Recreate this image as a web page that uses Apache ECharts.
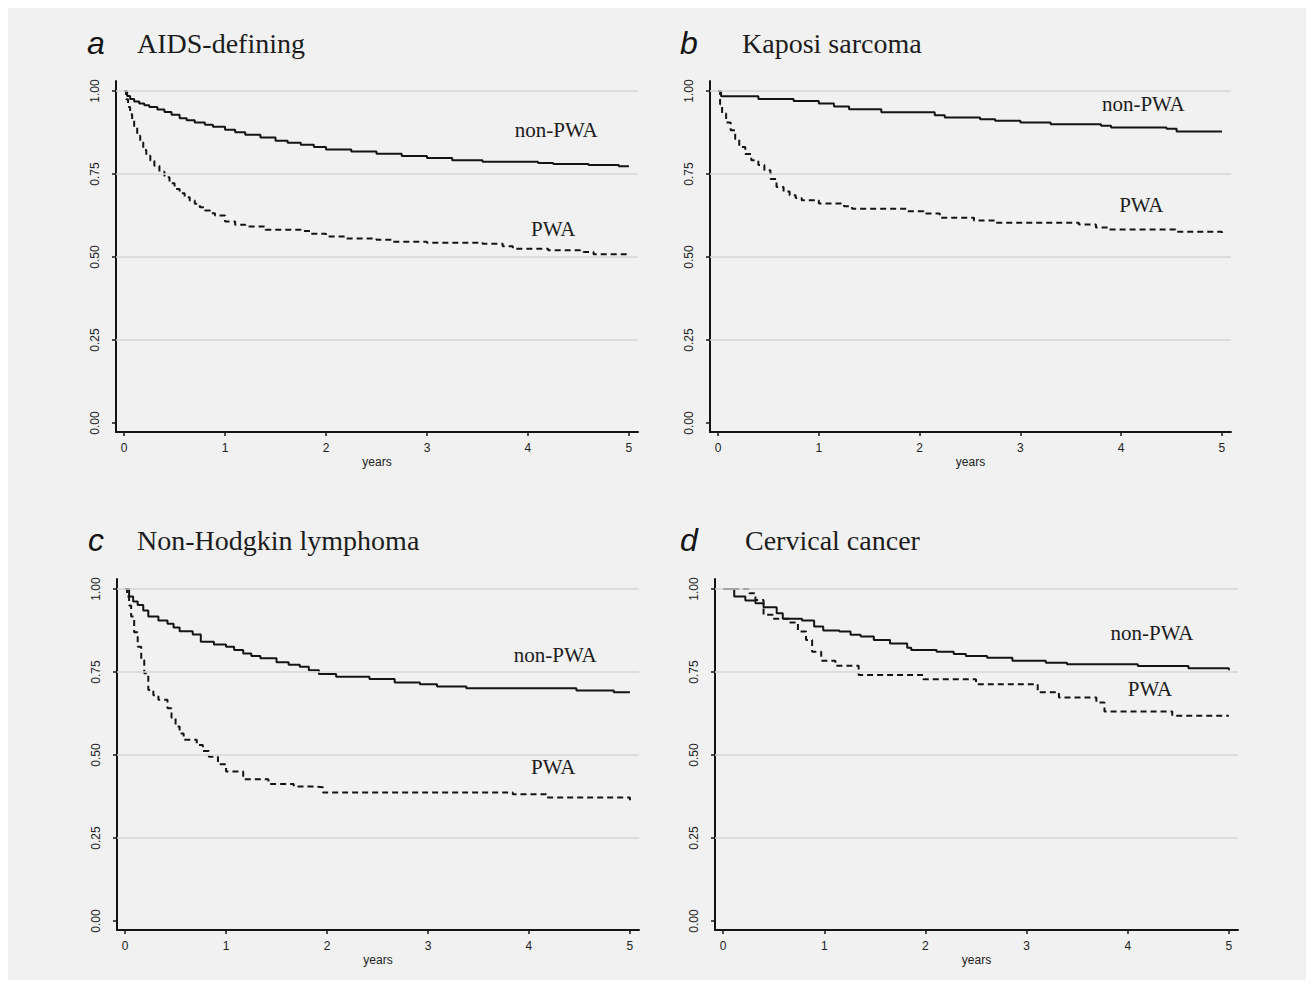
<!DOCTYPE html>
<html>
<head>
<meta charset="utf-8">
<script src="https://cdn.jsdelivr.net/npm/echarts@6/dist/echarts.min.js"></script>
<style>
  html, body { margin: 0; padding: 0; background: #ffffff; }
  #main { position: absolute; left: 8px; top: 8px; width: 1298px; height: 972px; background: #f1f1f1; }
</style>
</head>
<body>
<div id="main"></div>
<script>
// tick values
const years = [0, 1, 2, 3, 4, 5]
const survTicks = [0, 0.25, 0.5, 0.75, 1]

// panel text
const panelLetters = ['a', 'b', 'c', 'd']
const panelTitles = ['AIDS-defining', 'Kaposi sarcoma', 'Non-Hodgkin lymphoma', 'Cervical cancer']
const groupNames = ['non-PWA', 'PWA']

// survival curves, [years, proportion]
const aidsNonPwa = [[0, 1], [0.03, 0.985], [0.06, 0.976], [0.1, 0.968], [0.15, 0.962], [0.2, 0.957], [0.25, 0.952], [0.33, 0.944], [0.4, 0.937], [0.47, 0.928], [0.55, 0.918], [0.62, 0.912], [0.7, 0.905], [0.8, 0.898], [0.88, 0.892], [1.0, 0.883], [1.1, 0.876], [1.2, 0.868], [1.35, 0.86], [1.5, 0.85], [1.62, 0.844], [1.75, 0.838], [1.88, 0.831], [2.0, 0.824], [2.25, 0.818], [2.5, 0.811], [2.75, 0.804], [3.0, 0.798], [3.25, 0.791], [3.55, 0.787], [4.1, 0.783], [4.25, 0.78], [4.6, 0.777], [4.9, 0.773], [5.0, 0.771]]
const aidsPwa = [[0, 1], [0.02, 0.975], [0.04, 0.952], [0.06, 0.93], [0.08, 0.91], [0.1, 0.89], [0.13, 0.865], [0.16, 0.845], [0.19, 0.822], [0.22, 0.805], [0.26, 0.79], [0.3, 0.775], [0.35, 0.757], [0.4, 0.74], [0.45, 0.722], [0.5, 0.705], [0.55, 0.692], [0.6, 0.68], [0.65, 0.67], [0.7, 0.66], [0.75, 0.65], [0.8, 0.64], [0.85, 0.632], [0.9, 0.625], [1.0, 0.607], [1.1, 0.597], [1.2, 0.592], [1.4, 0.582], [1.75, 0.578], [1.85, 0.57], [2.0, 0.562], [2.2, 0.556], [2.5, 0.552], [2.65, 0.546], [3.0, 0.543], [3.55, 0.54], [3.75, 0.532], [3.85, 0.525], [4.2, 0.52], [4.55, 0.515], [4.65, 0.508], [5.0, 0.503]]

const kaposiNonPwa = [[0, 1], [0.03, 0.984], [0.4, 0.976], [0.75, 0.97], [1.0, 0.962], [1.15, 0.953], [1.3, 0.945], [1.62, 0.936], [2.15, 0.927], [2.25, 0.92], [2.6, 0.915], [2.75, 0.91], [3.0, 0.905], [3.3, 0.9], [3.8, 0.895], [3.9, 0.89], [4.45, 0.886], [4.55, 0.878], [5.0, 0.877]]
const kaposiPwa = [[0, 1], [0.02, 0.96], [0.04, 0.932], [0.08, 0.905], [0.125, 0.882], [0.17, 0.855], [0.21, 0.831], [0.27, 0.81], [0.33, 0.791], [0.4, 0.777], [0.46, 0.761], [0.52, 0.735], [0.58, 0.711], [0.65, 0.697], [0.71, 0.686], [0.77, 0.678], [0.83, 0.671], [1.0, 0.661], [1.25, 0.653], [1.33, 0.645], [1.88, 0.638], [2.04, 0.631], [2.2, 0.618], [2.54, 0.61], [2.75, 0.603], [3.58, 0.598], [3.75, 0.589], [3.87, 0.583], [4.54, 0.576], [5.0, 0.567]]

const nhlNonPwa = [[0, 1], [0.04, 0.977], [0.08, 0.962], [0.125, 0.952], [0.18, 0.935], [0.23, 0.917], [0.33, 0.905], [0.42, 0.895], [0.48, 0.884], [0.54, 0.873], [0.67, 0.863], [0.75, 0.841], [0.88, 0.833], [1.0, 0.826], [1.08, 0.816], [1.17, 0.806], [1.25, 0.798], [1.34, 0.791], [1.5, 0.779], [1.62, 0.772], [1.73, 0.766], [1.82, 0.755], [1.92, 0.744], [2.09, 0.736], [2.42, 0.729], [2.67, 0.718], [2.92, 0.713], [3.09, 0.706], [3.38, 0.701], [4.47, 0.694], [4.84, 0.689], [5.0, 0.689]]
const nhlPwa = [[0, 1], [0.02, 0.977], [0.04, 0.95], [0.06, 0.917], [0.09, 0.87], [0.125, 0.826], [0.16, 0.785], [0.19, 0.746], [0.23, 0.696], [0.28, 0.68], [0.33, 0.666], [0.42, 0.641], [0.46, 0.612], [0.5, 0.586], [0.54, 0.565], [0.58, 0.546], [0.71, 0.53], [0.77, 0.512], [0.83, 0.495], [0.92, 0.472], [1.0, 0.45], [1.17, 0.427], [1.42, 0.413], [1.67, 0.405], [1.88, 0.403], [1.96, 0.387], [3.67, 0.387], [3.84, 0.382], [4.17, 0.372], [5.0, 0.364]]

const cervNonPwa = [[0, 1], [0.11, 0.977], [0.22, 0.965], [0.32, 0.957], [0.4, 0.945], [0.53, 0.927], [0.59, 0.91], [0.78, 0.905], [0.9, 0.887], [0.99, 0.875], [1.15, 0.872], [1.26, 0.862], [1.36, 0.857], [1.49, 0.846], [1.65, 0.836], [1.82, 0.823], [1.86, 0.816], [2.11, 0.811], [2.28, 0.804], [2.4, 0.798], [2.61, 0.793], [2.86, 0.784], [3.19, 0.778], [3.4, 0.773], [4.1, 0.768], [4.6, 0.761], [5.0, 0.755]]
const cervPwa = [[0, 1], [0.26, 0.987], [0.32, 0.967], [0.4, 0.922], [0.49, 0.91], [0.65, 0.899], [0.74, 0.872], [0.82, 0.846], [0.88, 0.811], [0.97, 0.784], [1.11, 0.769], [1.34, 0.741], [1.98, 0.728], [2.5, 0.713], [3.11, 0.689], [3.32, 0.673], [3.69, 0.658], [3.77, 0.631], [4.44, 0.618], [5.0, 0.617]]

const curves = [
  [aidsNonPwa, aidsPwa],
  [kaposiNonPwa, kaposiPwa],
  [nhlNonPwa, nhlPwa],
  [cervNonPwa, cervPwa]
]

// layout, in pixels of the chart box
const panels = [
  { grid: { left: 108, top: 73, width: 522, height: 351 }, letterX: 79, titleX: 129, titleY: 36, tags: [[4.28, 0.883], [4.25, 0.584]] },
  { grid: { left: 702, top: 73, width: 521, height: 351 }, letterX: 672, titleX: 734, titleY: 36, tags: [[4.22, 0.961], [4.2, 0.657]] },
  { grid: { left: 109, top: 571, width: 522, height: 351 }, letterX: 80, titleX: 129, titleY: 533, tags: [[4.26, 0.801], [4.24, 0.464]] },
  { grid: { left: 707, top: 571, width: 523, height: 351 }, letterX: 672, titleX: 737, titleY: 533, tags: [[4.24, 0.867], [4.22, 0.70]] }
]

const ink = '#141414'
const labelFont = { fontFamily: 'Liberation Sans', fontSize: 12, color: '#222222' }

let grids = [], xAxes = [], yAxes = [], series = [], titles = []

panels.forEach((p, i) => {
  grids.push(p.grid)
  xAxes.push({
    type: 'value', gridIndex: i, min: -0.08, max: 5.09,
    name: 'years', nameLocation: 'middle', nameGap: 24,
    nameTextStyle: labelFont,
    axisLine: { show: true, onZero: false, lineStyle: { color: ink, width: 2 } },
    axisTick: { show: true, length: 4, customValues: years, lineStyle: { color: ink, width: 1.5 } },
    axisLabel: { customValues: years, margin: 10, ...labelFont },
    splitLine: { show: false }
  })
  yAxes.push({
    type: 'value', gridIndex: i, min: -0.027, max: 1.03,
    axisLine: { show: true, onZero: false, lineStyle: { color: ink, width: 2 } },
    axisTick: { show: true, length: 4, customValues: survTicks, lineStyle: { color: ink, width: 1.5 } },
    axisLabel: {
      customValues: survTicks, rotate: 90, margin: 15, ...labelFont,
      formatter: v => v.toFixed(2)
    },
    splitLine: { show: false }
  })
  titles.push({
    text: panelLetters[i], left: p.letterX, top: p.titleY - 17, padding: 0,
    textStyle: { fontFamily: 'Liberation Sans', fontStyle: 'italic', fontWeight: 'normal', fontSize: 32, color: ink }
  })
  titles.push({
    text: panelTitles[i], left: p.titleX, top: p.titleY - 15, padding: 0,
    textStyle: { fontFamily: 'Liberation Serif', fontWeight: 'normal', fontSize: 28, color: '#1c1c1c' }
  })
  curves[i].forEach((data, k) => {
    series.push({
      type: 'line', xAxisIndex: i, yAxisIndex: i, step: 'end',
      data: data, symbol: 'none', silent: true, animation: false,
      lineStyle: { color: ink, width: 2, type: k === 0 ? 'solid' : [6, 4] },
      markPoint: {
        symbol: 'rect', symbolSize: 1, silent: true, animation: false,
        itemStyle: { color: 'rgba(0,0,0,0)' },
        label: {
          show: true, position: 'inside', formatter: '{b}',
          fontFamily: 'Liberation Serif', fontSize: 21, color: '#1c1c1c'
        },
        data: [{ name: groupNames[k], coord: p.tags[k] }]
      },
      markLine: k === 0 ? {
        symbol: 'none', silent: true, animation: false,
        label: { show: false },
        lineStyle: { color: '#d6d6d6', width: 1.5, type: 'solid' },
        data: survTicks.filter(v => v > 0).map(v => ({ yAxis: v }))
      } : undefined,
      z: 3
    })
  })
})

const chart = echarts.init(document.getElementById('main'), null, { renderer: 'svg' })
chart.setOption({
  backgroundColor: '#f1f1f1',
  animation: false,
  title: titles,
  grid: grids,
  xAxis: xAxes,
  yAxis: yAxes,
  series: series
})
</script>
</body>
</html>
